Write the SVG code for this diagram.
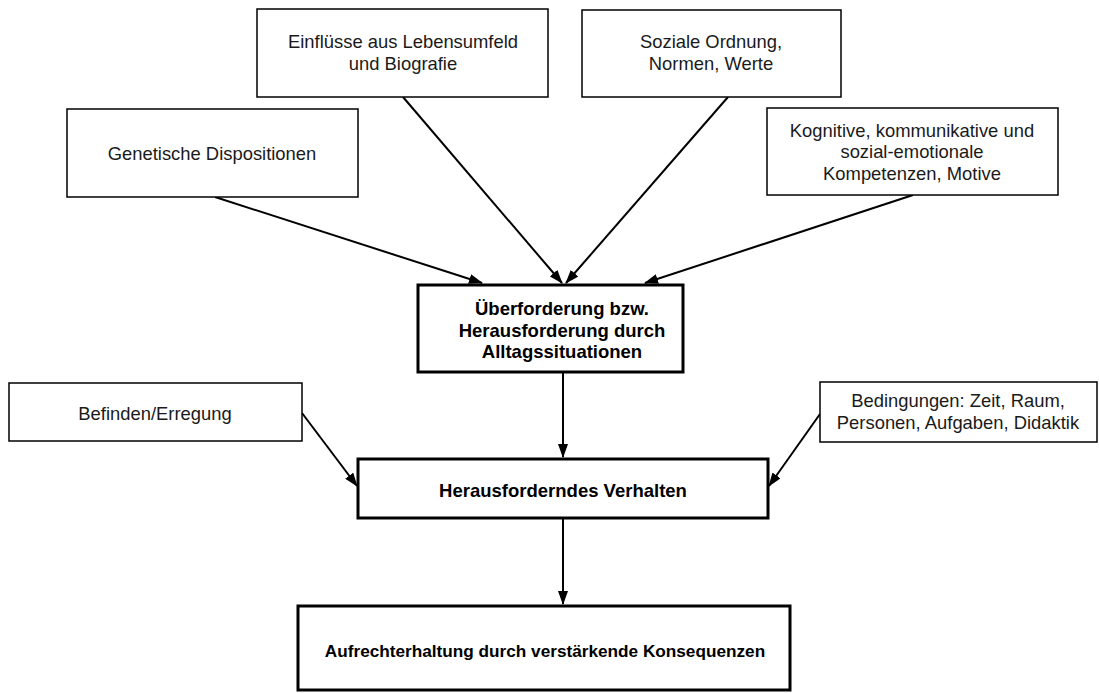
<svg xmlns="http://www.w3.org/2000/svg" width="1099" height="693" viewBox="0 0 1099 693">
<style>
.box{fill:#fff;stroke:#000;stroke-width:1.5}
.main{fill:#fff;stroke:#000;stroke-width:3}
.t{font-family:"Liberation Sans",Arial,sans-serif;font-size:18.4px;fill:#1a1a1a;text-anchor:middle}
.b{font-family:"Liberation Sans",Arial,sans-serif;font-size:18.5px;font-weight:bold;fill:#000;text-anchor:middle}
.c{stroke:#000;stroke-width:2;fill:none;marker-end:url(#ah)}
</style>
<defs>
<marker id="ah" markerWidth="14" markerHeight="10" refX="13" refY="5" orient="auto" markerUnits="userSpaceOnUse">
<path d="M0,0 L14,5 L0,10 Z" fill="#000"/>
</marker>
</defs>
<rect width="1099" height="693" fill="#fff"/>
<g id="connectors">
<line class="c" x1="215" y1="197" x2="482" y2="283"/>
<line class="c" x1="403" y1="97" x2="562" y2="283"/>
<line class="c" x1="728" y1="97" x2="566" y2="283"/>
<line class="c" x1="913" y1="195" x2="645" y2="283"/>
<line class="c" x1="563" y1="372" x2="563" y2="457"/>
<line class="c" x1="302" y1="413" x2="357" y2="486"/>
<line class="c" x1="820" y1="414" x2="769" y2="486"/>
<line class="c" x1="563" y1="518" x2="563" y2="604"/>
</g>
<g id="n1"><rect class="box" x="257" y="9" width="291" height="88"/>
<text class="t" x="403" y="48">Einflüsse aus Lebensumfeld</text><text class="t" x="403" y="70">und Biografie</text></g>
<g id="n2"><rect class="box" x="582" y="10" width="259" height="87"/>
<text class="t" x="711" y="48">Soziale Ordnung,</text><text class="t" x="711" y="70">Normen, Werte</text></g>
<g id="n3"><rect class="box" x="67" y="109" width="291" height="88"/>
<text class="t" x="212" y="160">Genetische Dispositionen</text></g>
<g id="n4"><rect class="box" x="767" y="108" width="291" height="87"/>
<text class="t" x="912" y="137">Kognitive, kommunikative und</text><text class="t" x="912" y="158">sozial-emotionale</text><text class="t" x="912" y="180">Kompetenzen, Motive</text></g>
<g id="n5"><rect class="main" x="418" y="285" width="265" height="87"/>
<text class="b" x="562" y="315">Überforderung bzw.</text><text class="b" x="562" y="337">Herausforderung durch</text><text class="b" x="562" y="358">Alltagssituationen</text></g>
<g id="n6"><rect class="box" x="9" y="383" width="293" height="58"/>
<text class="t" x="155" y="420">Befinden/Erregung</text></g>
<g id="n7"><rect class="box" x="820" y="382" width="277" height="60"/>
<text class="t" x="958" y="407">Bedingungen: Zeit, Raum,</text><text class="t" x="958" y="429">Personen, Aufgaben, Didaktik</text></g>
<g id="n8"><rect class="main" x="358" y="459" width="410" height="59"/>
<text class="b" x="563" y="497">Herausforderndes Verhalten</text></g>
<g id="n9"><rect class="main" x="298" y="606" width="492" height="84"/>
<text class="b" x="545" y="657" style="font-size:17.2px">Aufrechterhaltung durch verstärkende Konsequenzen</text></g>
</svg>
